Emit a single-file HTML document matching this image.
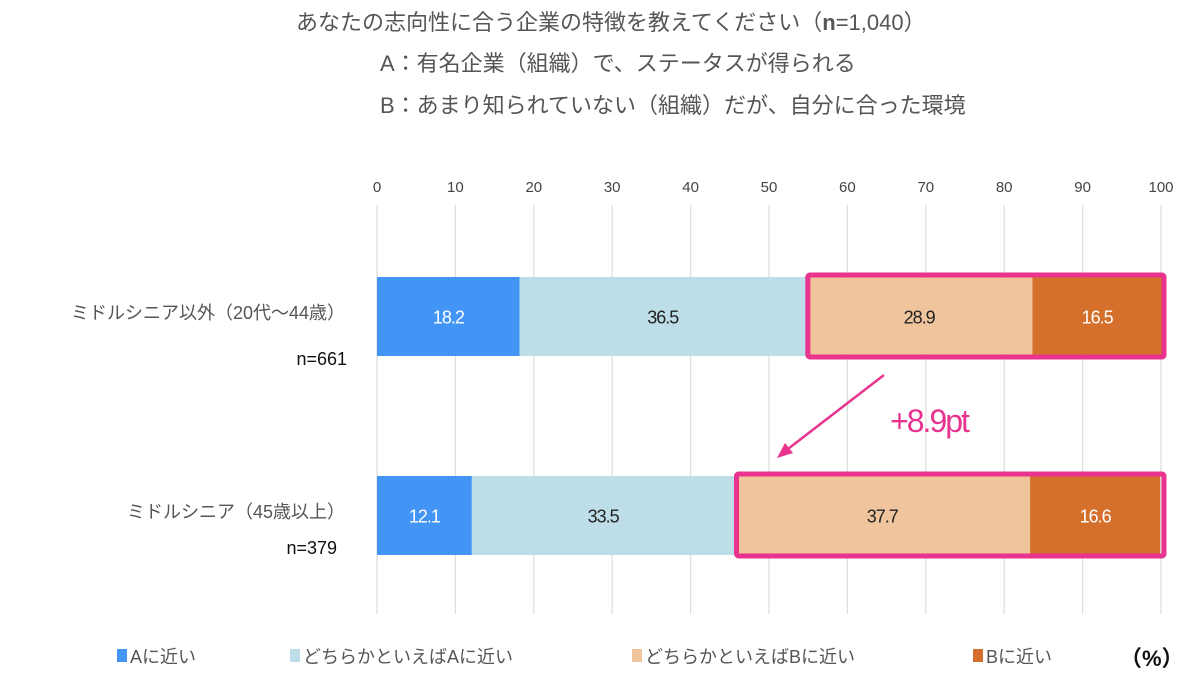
<!DOCTYPE html>
<html><head><meta charset="utf-8"><style>
body{margin:0;background:#fff;width:1200px;height:692px;overflow:hidden;font-family:"Liberation Sans","Noto Sans CJK JP",sans-serif}
svg text{font-family:"Liberation Sans","Noto Sans CJK JP",sans-serif}
</style></head><body>
<svg id="chart" width="1200" height="692" xmlns="http://www.w3.org/2000/svg">
<g fill="#555" font-size="22">
<text x="296" y="30">あなたの志向性に合う企業の特徴を教えてください（<tspan font-weight="bold">n</tspan>=1,040）</text>
<text x="380" y="71">A：有名企業（組織）で、ステータスが得られる</text>
<text x="380" y="113">B：あまり知られていない（組織）だが、自分に合った環境</text>
</g>
<g id="grid"></g><g id="bars"></g><g id="ann"></g>
</svg>
<script>
const categories=["ミドルシニア以外（20代〜44歳）","ミドルシニア（45歳以上）"];
const sampleSizes=["n=661","n=379"];
const seriesNames=["Aに近い","どちらかといえばAに近い","どちらかといえばBに近い","Bに近い"];
const seriesA=[18.2,12.1];
const seriesLeanA=[33.5,33.5];
seriesLeanA[0]=36.5;
const seriesLeanB=[28.9,37.7];
const seriesB=[16.5,16.6];
const ticks=[0,10,20,30,40,50,60,70,80,90,100];
const series=[seriesA,seriesLeanA,seriesLeanB,seriesB];
const colors=["#4295f5","#bddde8","#f0c49c","#d5702c"];
const textCol=["#fff","#222","#222","#fff"];
const NS="http://www.w3.org/2000/svg";
const x=v=>377+v*7.84;
const rowY=[277,476], barH=79;
function mk(tag,attrs,parent,txt){const e=document.createElementNS(NS,tag);for(const k in attrs)e.setAttribute(k,attrs[k]);if(txt!==undefined)e.textContent=txt;parent.appendChild(e);return e;}
const grid=document.getElementById('grid'),bars=document.getElementById('bars'),ann=document.getElementById('ann');
ticks.forEach(t=>{
 const l=mk('line',{x1:x(t),x2:x(t),y1:205,y2:614,stroke:'#ddd','stroke-width':1.2},grid);
 
 
 const tx=mk('text',{x:x(t),y:192,'text-anchor':'middle','font-size':15,fill:'#444'},grid,t);
 
 
});
categories.forEach((c,i)=>{
 let acc=0;
 series.forEach((s,j)=>{
  const v=s[i];
  const r=mk('rect',{x:x(acc),y:rowY[i],width:x(acc+v)-x(acc),height:barH,fill:colors[j]},bars);
  
  
  const t=mk('text',{x:(x(acc)+x(acc+v))/2,y:rowY[i]+barH/2+7,'text-anchor':'middle','font-size':18,fill:textCol[j],'letter-spacing':-1},bars,v.toFixed(1));
  
  
  acc+=v;
 });
 const lab=mk('text',{x:345,y:rowY[i]+42,'text-anchor':'end','font-size':18,fill:'#555'},bars,c);
 
 
 const n=mk('text',{x:i==0?347:337,y:rowY[i]+(i==0?88:78),'text-anchor':'end','font-size':18,fill:'#111'},bars,sampleSizes[i]);
 
 
 // highlight box around B-side
 const s0=seriesA[i]+seriesLeanA[i];
 const hb=mk('rect',{x:x(s0)+2,y:rowY[i]-2,width:x(100)-x(s0)+1,height:barH+3,fill:'none',stroke:'#e8338f','stroke-width':5,rx:2},ann);
 
 
});
const ar=mk('line',{x1:884,y1:375,x2:784,y2:452,stroke:'#e8338f','stroke-width':2.5},ann);


const ah=mk('polygon',{points:'777,458 785,443 793,453',fill:'#e8338f'},ann);


const diff=(seriesLeanB[1]+seriesB[1])-(seriesLeanB[0]+seriesB[0]);
const dt=mk('text',{x:929,y:432,'text-anchor':'middle','font-size':32,fill:'#e8338f','letter-spacing':-2},ann,'+'+diff.toFixed(1)+'pt');


const lx=[117,290,632,973];
seriesNames.forEach((nm,j)=>{
 const g=mk('g',{},ann);
 
 
 mk('rect',{x:lx[j],y:649,width:10,height:13,fill:colors[j]},g);
 mk('text',{x:lx[j]+13,y:663,'font-size':18,fill:'#555'},g,nm);
});
const pc=mk('text',{x:1120,y:666,'font-size':22,'font-weight':'bold',fill:'#111'},ann,'（%）');


</script>
</body></html>
